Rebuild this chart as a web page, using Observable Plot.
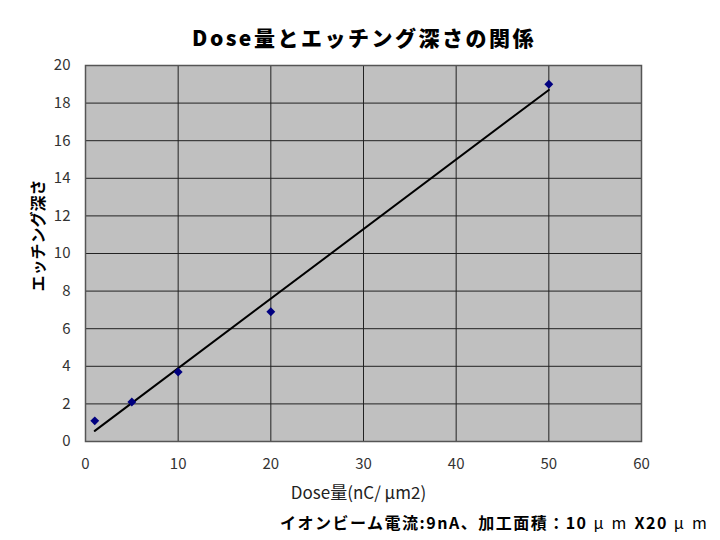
<!DOCTYPE html>
<html>
<head>
<meta charset="utf-8">
<script src="https://cdn.jsdelivr.net/npm/d3@7"></script>
<script src="https://cdn.jsdelivr.net/npm/@observablehq/plot@0.6"></script>
<style>
  body { margin: 0; background: #fff; font-family: "Noto Sans CJK JP", "DejaVu Sans", sans-serif; }
  #wrap { position: relative; width: 720px; height: 540px; }
  #title { position: absolute; left: 0; width: 728px; top: 27px; text-align: center; font-size: 21px; font-weight: 900; letter-spacing: 2.5px; color: #000; line-height: 1; }
  #caption { position: absolute; left: 280px; top: 514px; font-size: 16px; font-weight: bold; color: #000; line-height: 1; white-space: nowrap; letter-spacing: 1.5px; }
  #caption .w { letter-spacing: 8px; font-weight: normal; padding-left: 6px; }
  #chart { position: absolute; left: 0; top: 0; }
</style>
</head>
<body>
<div id="wrap">
  <div id="chart"></div>
  <div id="title">Dose量とエッチング深さの関係</div>
  <div id="caption">イオンビーム電流:9nA、加工面積：10<span class="w">μm</span>X20<span class="w">μm</span></div>
</div>
<script>
const dose = [1, 5, 10, 20, 50];
const depth = [1.1, 2.1, 3.7, 6.9, 19.0];
const xTicks = [0, 10, 20, 30, 40, 50, 60];
const yTicks = [0, 2, 4, 6, 8, 10, 12, 14, 16, 18, 20];

const data = dose.map((d, i) => ({dose: d, depth: depth[i]}));

const chart = Plot.plot({
  width: 720,
  height: 540,
  marginLeft: 85,
  marginRight: 79,
  marginTop: 65,
  marginBottom: 99,
  style: {fontFamily: "'Noto Sans CJK JP', sans-serif", fontSize: "15px", color: "#222", background: "transparent"},
  x: {domain: [0, 60], ticks: xTicks, label: null},
  y: {domain: [0, 20], ticks: yTicks, label: null},
  marks: [
    Plot.frame({fill: "#c0c0c0", stroke: "none"}),
    Plot.gridX(xTicks, {stroke: "#222", strokeOpacity: 1, strokeWidth: 1}),
    Plot.gridY(yTicks, {stroke: "#222", strokeOpacity: 1, strokeWidth: 1}),
    Plot.frame({stroke: "#555", strokeWidth: 1.5}),
    Plot.axisX({ticks: xTicks, tickSize: 0, tickPadding: 17, fontSize: 15, fill: "#333", label: null}),
    Plot.axisY({ticks: yTicks, tickSize: 0, tickPadding: 15, fontSize: 15, fill: "#333", label: null}),
    Plot.linearRegressionY(data, {x: "dose", y: "depth", ci: 0, stroke: "#000", strokeWidth: 2}),
    Plot.dot(data, {x: "dose", y: "depth", symbol: "diamond2", r: 4, fill: "#000080", stroke: "none"}),
    Plot.text(["Dose量(nC/ μm2)"], {frameAnchor: "bottom", dy: 57, dx: -5, fontSize: 17, fill: "#222", style: "letter-spacing:1px"}),
    Plot.text(["エッチング深さ"], {frameAnchor: "left", textAnchor: "middle", dx: -47, dy: -18, rotate: -90, fontSize: 16, fontWeight: "bold", fill: "#000", style: "letter-spacing:5px"})
  ]
});
document.getElementById("chart").appendChild(chart);
</script>
</body>
</html>
